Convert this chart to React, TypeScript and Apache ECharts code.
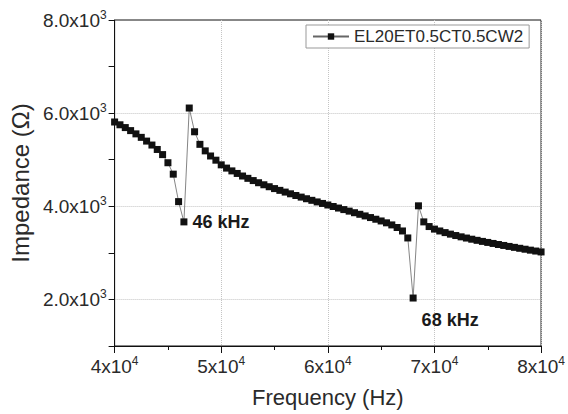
import React, { useEffect, useRef } from 'react';
import * as echarts from 'echarts';

const FONT = '"Liberation Sans", Arial, Helvetica, sans-serif';
const INK = '#1a1a1a';

const seriesName = 'EL20ET0.5CT0.5CW2';

const frequencyHz = [
  40000, 40500, 41000, 41500, 42000, 42500, 43000, 43500, 44000, 44500,
  45000, 45500, 46000, 46500, 47000, 47500, 48000, 48500, 49000, 49500,
  50000, 50500, 51000, 51500, 52000, 52500, 53000, 53500, 54000, 54500,
  55000, 55500, 56000, 56500, 57000, 57500, 58000, 58500, 59000, 59500,
  60000, 60500, 61000, 61500, 62000, 62500, 63000, 63500, 64000, 64500,
  65000, 65500, 66000, 66500, 67000, 67500, 68000, 68500, 69000, 69500,
  70000, 70500, 71000, 71500, 72000, 72500, 73000, 73500, 74000, 74500,
  75000, 75500, 76000, 76500, 77000, 77500, 78000, 78500, 79000, 79500,
  80000,
];

const impedanceOhm = [
  5810, 5750, 5690, 5625, 5555, 5480, 5400, 5315, 5220, 5110,
  4935, 4690, 4100, 3665, 6110, 5600, 5330, 5190, 5080, 4990,
  4890, 4820, 4760, 4705, 4650, 4600, 4552, 4506, 4462, 4420,
  4380, 4342, 4305, 4268, 4232, 4197, 4162, 4128, 4094, 4061,
  4028, 3995, 3962, 3929, 3896, 3862, 3828, 3793, 3758, 3722,
  3685, 3645, 3600, 3545, 3470, 3320, 2030, 4010, 3665, 3565,
  3510, 3470, 3435, 3402, 3372, 3344, 3318, 3293, 3269, 3246,
  3224, 3202, 3180, 3159, 3138, 3118, 3098, 3078, 3058, 3039,
  3020,
];

const resonanceFreqs = [46500, 68000];
const resonanceLabels = ['46 kHz', '68 kHz'];

const xTickValues = [40000, 50000, 60000, 70000, 80000];
const yLabelValues = [2000, 4000, 6000, 8000];
const yGridValues = [2000, 4000, 6000];

function sci(v: number, decimals: number): string {
  const exp = Math.floor(Math.log10(v) + 1e-9);
  const mant = v / Math.pow(10, exp);
  return `{m|${mant.toFixed(decimals)}x10}{e|${exp}}`;
}

const tickRich = {
  m: { fontSize: 19, fontFamily: FONT, color: '#2a2a2a', lineHeight: 22 },
  e: { fontSize: 12, fontFamily: FONT, color: '#2a2a2a', lineHeight: 12, verticalAlign: 'top' },
};

export default function App() {
  const ref = useRef<HTMLDivElement>(null);

  useEffect(() => {
    document.body.style.margin = '0';
    if (!ref.current) return;
    const chart = echarts.init(ref.current, null, { renderer: 'svg' });

    const labelStyles = [
      { position: 'right', distance: 5 },
      { position: 'bottom', distance: 5, offset: [37, 4] },
    ];

    const data = frequencyHz.map((f, i) => {
      const r = resonanceFreqs.indexOf(f);
      if (r < 0) return [f, impedanceOhm[i]];
      return {
        value: [f, impedanceOhm[i]],
        label: {
          show: true,
          formatter: resonanceLabels[r],
          fontSize: 18,
          fontWeight: 'bold',
          fontFamily: FONT,
          color: INK,
          ...labelStyles[r],
        },
      };
    });

    const option: any = {
      animation: false,
      backgroundColor: '#ffffff',
      grid: {
        left: 114,
        right: 22,
        top: 20,
        bottom: 68,
        show: true,
        borderColor: '#111',
        borderWidth: 1,
        backgroundColor: 'transparent',
      },
      legend: {
        show: true,
        left: 306,
        top: 25,
        orient: 'horizontal',
        itemWidth: 36,
        itemHeight: 8,
        itemGap: 8,
        padding: [3, 6],
        borderColor: '#999',
        borderWidth: 1,
        backgroundColor: '#fff',
        textStyle: { fontSize: 17, fontFamily: FONT, color: '#2a2a2a' },
        data: [seriesName],
      },
      xAxis: {
        type: 'value',
        min: 40000,
        max: 80000,
        interval: 10000,
        name: 'Frequency (Hz)',
        nameLocation: 'middle',
        nameGap: 40,
        nameTextStyle: { fontSize: 22, fontFamily: FONT, color: '#2a2a2a' },
        axisLine: { show: true, onZero: false, lineStyle: { color: '#111', width: 1 } },
        axisTick: { show: true, length: 7, lineStyle: { color: '#111' } },
        minorTick: { show: true, splitNumber: 2, length: 4, lineStyle: { color: '#111' } },
        axisLabel: {
          margin: 9,
          customValues: xTickValues,
          formatter: (v: number) => sci(v, 0),
          rich: tickRich,
        },
        splitLine: { show: true, lineStyle: { color: '#c4c4c4', type: 'dotted', width: 1 } },
      },
      yAxis: [
        {
          type: 'value',
          min: 1000,
          max: 8000,
          interval: 1000,
          position: 'left',
          name: 'Impedance (Ω)',
          nameLocation: 'middle',
          nameGap: 82,
          nameTextStyle: { fontSize: 24, fontFamily: FONT, color: '#2a2a2a' },
          axisLine: { show: true, onZero: false, lineStyle: { color: '#111', width: 1 } },
          axisTick: { show: true, length: 6, lineStyle: { color: '#111' } },
          axisLabel: {
            margin: 8,
            customValues: yLabelValues,
            formatter: (v: number) => sci(v, 1),
            rich: tickRich,
          },
          splitLine: { show: false },
        },
        {
          type: 'value',
          min: 1000,
          max: 8000,
          interval: 1000,
          position: 'right',
          axisLine: { show: false },
          axisTick: { show: false, customValues: yGridValues },
          axisLabel: { show: false },
          splitLine: { show: true, lineStyle: { color: '#c4c4c4', type: 'dotted', width: 1 } },
        },
      ],
      series: [
        {
          name: seriesName,
          type: 'line',
          yAxisIndex: 0,
          data,
          showSymbol: true,
          showAllSymbol: true,
          symbol: 'rect',
          symbolSize: 7,
          itemStyle: { color: '#111' },
          lineStyle: { color: '#666', width: 0.8 },
          emphasis: { disabled: true },
          z: 3,
        },
      ],
    };

    chart.setOption(option);
    return () => chart.dispose();
  }, []);

  return <div ref={ref} style={{ width: 568, height: 414 }} />;
}
